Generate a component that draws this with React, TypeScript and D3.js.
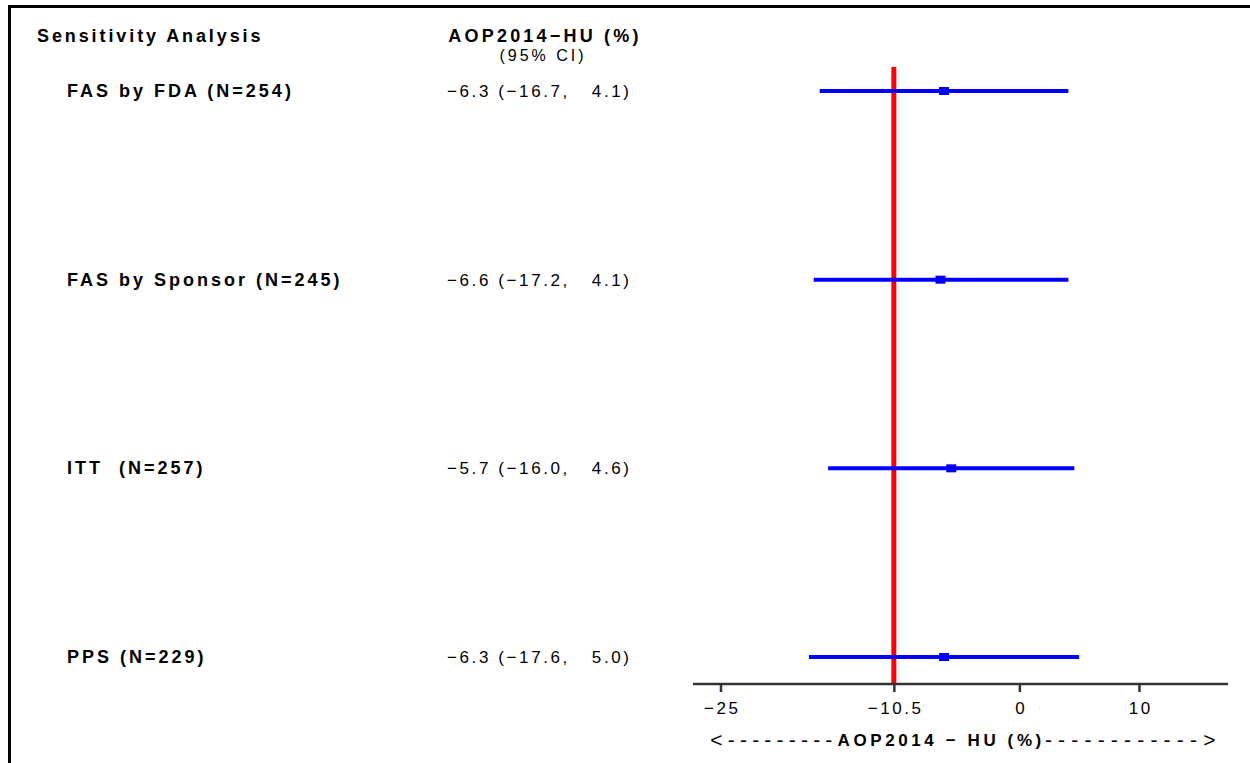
import * as d3 from "d3";
import React, { useEffect, useRef } from "react";

// forest plot data
const analyses = ["FAS by FDA (N=254)", "FAS by Sponsor (N=245)", "ITT  (N=257)", "PPS (N=229)"];
const estimates = [-6.3, -6.6, -5.7, -6.3];
const lowerCI = [-16.7, -17.2, -16.0, -17.6];
const upperCI = [4.1, 4.1, 4.6, 5.0];
const refLine = -10.5;
const tickValues = [-25, -10.5, 0, 10];

const FONT = "'Liberation Sans', Arial, sans-serif";

function ForestPlot() {
  const ref = useRef<SVGSVGElement | null>(null);

  useEffect(() => {
    const svg = d3.select(ref.current);
    svg.selectAll("*").remove();

    const width = 1250,
      height = 763;

    const x = d3.scaleLinear().domain([-27.3, 17.45]).range([693, 1228]);
    const y = d3.scalePoint().domain(analyses).range([91, 657]);
    const axisY = 684;

    const fmt = d3.format(".1f");
    const pad = (v: number) => fmt(v).padStart(5, " ");

    svg.append("rect").attr("width", width).attr("height", height).attr("fill", "#fff");

    // frame (top + left)
    svg.append("line").attr("x1", 8).attr("x2", width).attr("y1", 6.5).attr("y2", 6.5)
      .attr("stroke", "#000").attr("stroke-width", 3);
    svg.append("line").attr("x1", 9.5).attr("x2", 9.5).attr("y1", 5).attr("y2", height)
      .attr("stroke", "#000").attr("stroke-width", 3);

    const txt = svg.append("g").attr("font-family", FONT).attr("fill", "#000");
    const addText = () => txt.append("text").attr("xml:space", "preserve");

    addText().attr("x", 37).attr("y", 42).attr("font-size", 18)
      .attr("font-weight", "bold").attr("letter-spacing", 2.9).text("Sensitivity Analysis");

    addText().attr("x", 545).attr("y", 42).attr("font-size", 18)
      .attr("text-anchor", "middle").attr("font-weight", "bold").attr("letter-spacing", 3.2)
      .text("AOP2014\u2212HU (%)");
    addText().attr("x", 543).attr("y", 61).attr("font-size", 16)
      .attr("text-anchor", "middle").attr("letter-spacing", 3).text("(95% CI)");

    analyses.forEach((name, i) => {
      const yy = y(name) as number;
      addText().attr("x", 67).attr("y", yy + 6).attr("font-size", 18)
        .attr("font-weight", "bold").attr("letter-spacing", 3).text(name);
      addText().attr("x", 447).attr("y", yy + 6).attr("font-size", 17)
        .attr("letter-spacing", 2.6)
        .text(`${fmt(estimates[i])} (${pad(lowerCI[i])}, ${pad(upperCI[i])})`);
    });

    // reference line
    svg.append("line").attr("x1", x(refLine)).attr("x2", x(refLine))
      .attr("y1", 67).attr("y2", axisY).attr("stroke", "#ff0000").attr("stroke-width", 5);

    // CI bars and point estimates
    const rows = svg.append("g");
    analyses.forEach((name, i) => {
      const yy = y(name) as number;
      rows.append("line").attr("x1", x(lowerCI[i])).attr("x2", x(upperCI[i]))
        .attr("y1", yy).attr("y2", yy).attr("stroke", "#0000ff").attr("stroke-width", 4);
      rows.append("rect").attr("x", x(estimates[i]) - 5).attr("y", yy - 4)
        .attr("width", 10).attr("height", 8).attr("fill", "#0000ff");
    });

    // x axis
    const axis = svg.append("g").attr("transform", `translate(0,${axisY})`)
      .call(
        d3.axisBottom(x).tickValues(tickValues).tickSize(8).tickPadding(10)
          .tickFormat((d) => (d === -10.5 ? "\u221210.5" : d3.format("d")(d as number)))
      );
    axis.select(".domain").attr("stroke", "#333").attr("stroke-width", 2.5)
      .attr("d", `M${x.range()[0]},0H${x.range()[1]}`);
    axis.selectAll(".tick line").attr("stroke", "#333").attr("stroke-width", 2.5);
    axis.selectAll(".tick text").attr("font-family", FONT).attr("font-size", 17)
      .attr("fill", "#000").attr("letter-spacing", 2.6).attr("dx", 1.3);

    const lab = addText().attr("x", 966).attr("y", 746).attr("font-size", 17)
      .attr("text-anchor", "middle");
    lab.append("tspan").attr("font-size", 21).attr("dy", 1).attr("letter-spacing", 5.2)
      .text("<---------");
    lab.append("tspan").attr("font-weight", "bold").attr("dy", -1).attr("letter-spacing", 3.6)
      .text("AOP2014 \u2212 HU (%)");
    lab.append("tspan").attr("font-size", 21).attr("dy", 1).attr("letter-spacing", 6.2)
      .text("------------>");
  }, []);

  return (
    <svg
      ref={ref}
      width={1250}
      height={763}
      style={{ position: "absolute", left: 0, top: 0, display: "block" }}
    />
  );
}

export default function App() {
  return <ForestPlot />;
}
